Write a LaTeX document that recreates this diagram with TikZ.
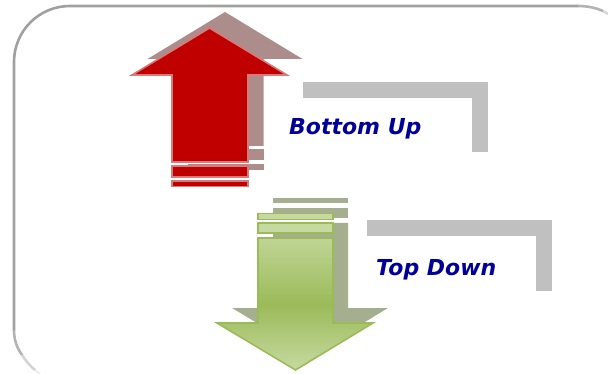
\documentclass[tikz,border=0pt]{standalone}
\usepackage{fontspec}
\newfontfamily\labelfont{DejaVu Sans}
\definecolor{redfill}{HTML}{C00000}
\definecolor{redline}{HTML}{D87A7A}
\definecolor{redshadow}{HTML}{AD8C8C}
\definecolor{greenline}{HTML}{9BBB59}
\definecolor{greenlight}{HTML}{C6D9A0}
\definecolor{greenmid}{HTML}{9BBB59}
\definecolor{greenshadow}{HTML}{A6AE90}
\definecolor{bracketgray}{HTML}{C0C0C0}
\definecolor{framegray}{HTML}{A0A0A0}
\definecolor{textblue}{HTML}{000099}
\tikzset{
  redarrow/.style={fill=redfill, draw=redline, line width=1.6pt, line join=miter},
  redshadowstyle/.style={fill=redshadow, draw=none},
  greenarrow/.style={draw=greenline, line width=1.6pt, top color=greenlight!85!greenmid, bottom color=greenlight, middle color=greenmid},
  greenstrip/.style={fill=greenlight, draw=greenline, line width=1.6pt},
  greenshadowstyle/.style={fill=greenshadow, draw=none},
  bracket/.style={fill=bracketgray, draw=none},
  framestyle/.style={draw=framegray, line width=2.6pt},
  lbl/.style={text=textblue, font=\labelfont\bfseries\itshape\fontsize{22}{26}\selectfont, inner sep=0pt, anchor=base west}
}
\begin{document}
\begin{tikzpicture}[x=1pt,y=-1pt]
\useasboundingbox (0,0) rectangle (608,374);
% frame
\draw[framestyle] (14,330) -- (14,62) .. controls (14,31) and (39,6) .. (70,6) -- (578,6);
\draw[framestyle, opacity=0.8] (578,6) .. controls (588,6) and (596,8) .. (603,11);
\draw[framestyle, opacity=0.4] (603,11) -- (608,14);
\draw[framestyle, opacity=0.8] (14,330) .. controls (14,340) and (17,348) .. (22,355);
\draw[framestyle, opacity=0.45] (22,355) .. controls (26,361) and (30,366) .. (35,370);
\draw[framestyle, opacity=0.15] (35,370) -- (40,374);

% Bottom Up bracket
\fill[bracket] (303,82) rectangle (488,98);
\fill[bracket] (472,82) rectangle (488,152);

% red shadow arrow
\begin{scope}[shift={(15.5,-16)}]
\fill[redshadowstyle] (172,162) -- (172,75) -- (132,75) -- (209.5,28) -- (287,75) -- (248,75) -- (248,162) -- cycle;
\fill[redshadowstyle] (172,165) rectangle (248,176);
\fill[redshadowstyle] (172,180) rectangle (248,186);
\end{scope}
% red main arrow
\draw[redarrow] (172,162) -- (172,75) -- (132,75) -- (209.5,28) -- (287,75) -- (248,75) -- (248,162) -- cycle;
\draw[redarrow] (172,166) rectangle (248,177);
\draw[redarrow] (172,181) rectangle (248,186.5);

\node[lbl] (bu) at (289,135) {Bottom Up};

% Top Down bracket
\fill[bracket] (367,220) rectangle (552,236);
\fill[bracket] (536,220) rectangle (552,291);

% green shadow arrow
\begin{scope}[shift={(15,-15)}]
\fill[greenshadowstyle] (258,238) -- (333,238) -- (333,323) -- (373,323) -- (295.5,370) -- (217,323) -- (258,323) -- cycle;
\fill[greenshadowstyle] (258,223) rectangle (333,233);
\fill[greenshadowstyle] (258,213) rectangle (333,218);
\end{scope}
% green main arrow
\draw[greenarrow] (258,238) -- (333,238) -- (333,323) -- (373,323) -- (295.5,370) -- (217,323) -- (258,323) -- cycle;
\draw[greenstrip] (258,223) rectangle (333,233);
\draw[greenstrip] (258,213.5) rectangle (333,219.5);

\node[lbl] (td) at (376,276) {Top Down};
\end{tikzpicture}
\end{document}
